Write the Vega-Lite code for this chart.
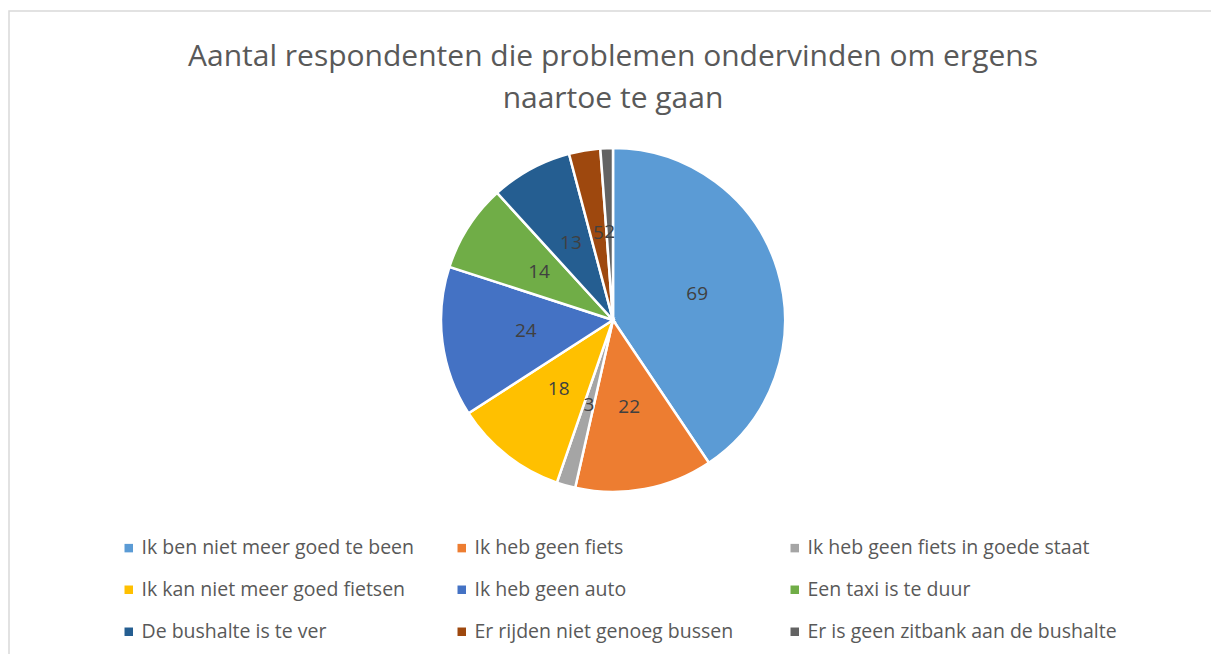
{
  "$schema": "https://vega.github.io/schema/vega-lite/v6.json",
  "width": 1220,
  "height": 660,
  "autosize": {"type": "none"},
  "padding": {"left": 9, "top": 11, "right": 0, "bottom": 0},
  "background": "white",
  "view": {"stroke": "#d9d9d9", "strokeWidth": 1.5},
  "config": {"font": "Open Sans"},
  "title": {
    "text": ["Aantal respondenten die problemen ondervinden om ergens", "naartoe te gaan"],
    "fontSize": 30,
    "fontWeight": "normal",
    "color": "#595959",
    "font": "Open Sans",
    "anchor": "middle",
    "frame": "group",
    "offset": -102.5,
    "dx": -6,
    "lineHeight": 42
  },
  "data": {
    "values": [
      {"i": 1, "cat": "Ik ben niet meer goed te been", "n": 69},
      {"i": 2, "cat": "Ik heb geen fiets", "n": 22},
      {"i": 3, "cat": "Ik heb geen fiets in goede staat", "n": 3},
      {"i": 4, "cat": "Ik kan niet meer goed fietsen", "n": 18},
      {"i": 5, "cat": "Ik heb geen auto", "n": 24},
      {"i": 6, "cat": "Een taxi is te duur", "n": 14},
      {"i": 7, "cat": "De bushalte is te ver", "n": 13},
      {"i": 8, "cat": "Er rijden niet genoeg bussen", "n": 5},
      {"i": 9, "cat": "Er is geen zitbank aan de bushalte", "n": 2}
    ]
  },
  "encoding": {
    "theta": {"field": "n", "type": "quantitative", "stack": true},
    "order": {"field": "i", "type": "quantitative"}
  },
  "layer": [
    {
      "mark": {"type": "arc", "radius": 172, "stroke": "white", "strokeWidth": 2.5, "xOffset": -6, "yOffset": -21},
      "encoding": {
        "color": {
          "field": "cat",
          "type": "nominal",
          "sort": null,
          "scale": {
            "domain": ["Ik ben niet meer goed te been", "Ik heb geen fiets", "Ik heb geen fiets in goede staat", "Ik kan niet meer goed fietsen", "Ik heb geen auto", "Een taxi is te duur", "De bushalte is te ver", "Er rijden niet genoeg bussen", "Er is geen zitbank aan de bushalte"],
            "range": ["#5B9BD5", "#ED7D31", "#A5A5A5", "#FFC000", "#4472C4", "#70AD47", "#255E91", "#9E480E", "#636363"]
          },
          "legend": {
            "orient": "none",
            "legendX": 110,
            "legendY": 527,
            "direction": "horizontal",
            "columns": 3,
            "gridAlign": "all",
            "title": null,
            "symbolType": "square",
            "symbolSize": 72,
            "symbolStrokeWidth": 0,
            "labelFontSize": 19.5,
            "labelFont": "Open Sans",
            "labelColor": "#595959",
            "labelLimit": 500,
            "labelOffset": 3,
            "columnPadding": 1,
            "rowPadding": 21
          }
        }
      }
    },
    {
      "mark": {"type": "text", "radius": 88, "fontSize": 19, "color": "#404040", "font": "Open Sans", "xOffset": -6, "yOffset": -21},
      "encoding": {
        "text": {"field": "n", "type": "quantitative"}
      }
    }
  ]
}
